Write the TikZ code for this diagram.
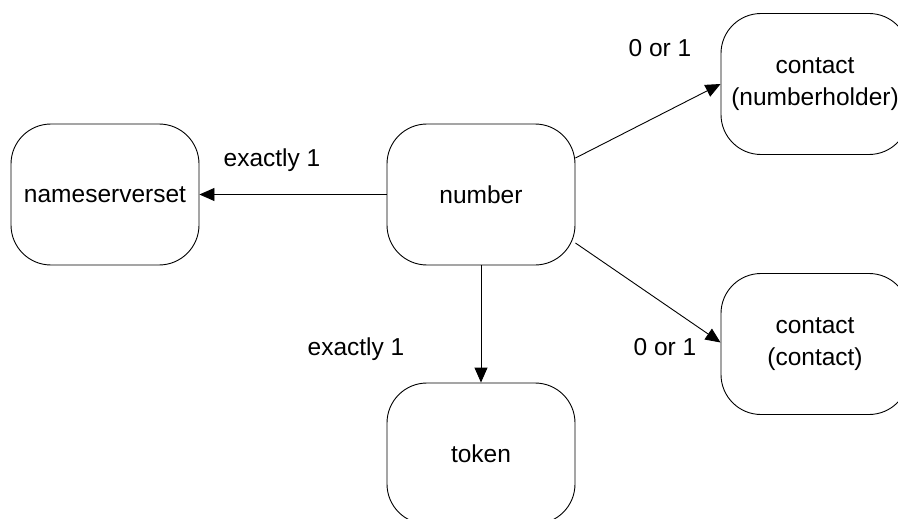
\documentclass[tikz,border=0pt]{standalone}
\usepackage{fontspec}
\setmainfont{Liberation Sans}
\usetikzlibrary{arrows.meta}
\begin{document}
\begin{tikzpicture}[x=1pt,y=-1pt,
  entity/.style={draw, line width=0.9pt, rounded corners=40pt,
    minimum width=188pt, minimum height=141pt, inner sep=0pt,
    align=center, font=\fontsize{24.5}{32}\selectfont},
  lbl/.style={inner sep=0pt, font=\fontsize{24.5}{30}\selectfont},
  rel/.style={line width=0.9pt, -{Triangle[length=15pt,width=13pt]}}]
\useasboundingbox (0,0) rectangle (898,519);
\clip (0,0) rectangle (898,519);
\node[entity] (ns) at (105,194.5) {nameserverset};
\node[entity] (num) at (481,194.5) {number};
\node[entity] (nh) at (815,84) {contact\\(numberholder)};
\node[entity] (ct) at (815,344) {contact\\(contact)};
\node[entity] (tok) at (481,453.5) {token};
\draw[rel] (num.west) -- (ns.east);
\draw[rel] (num.south) -- (tok.north);
\draw[rel] ([yshift=36.5pt]num.east) -- (nh.west);
\draw[rel] ([yshift=-48.5pt]num.east) -- ([yshift=1.5pt]ct.west);
\node[lbl] (l1) at (272,160) {exactly 1};
\node[lbl] (l2) at (356,349) {exactly 1};
\node[lbl] (l3) at (660,48) {0 or 1};
\node[lbl] (l4) at (665,347) {0 or 1};
\end{tikzpicture}
\end{document}
